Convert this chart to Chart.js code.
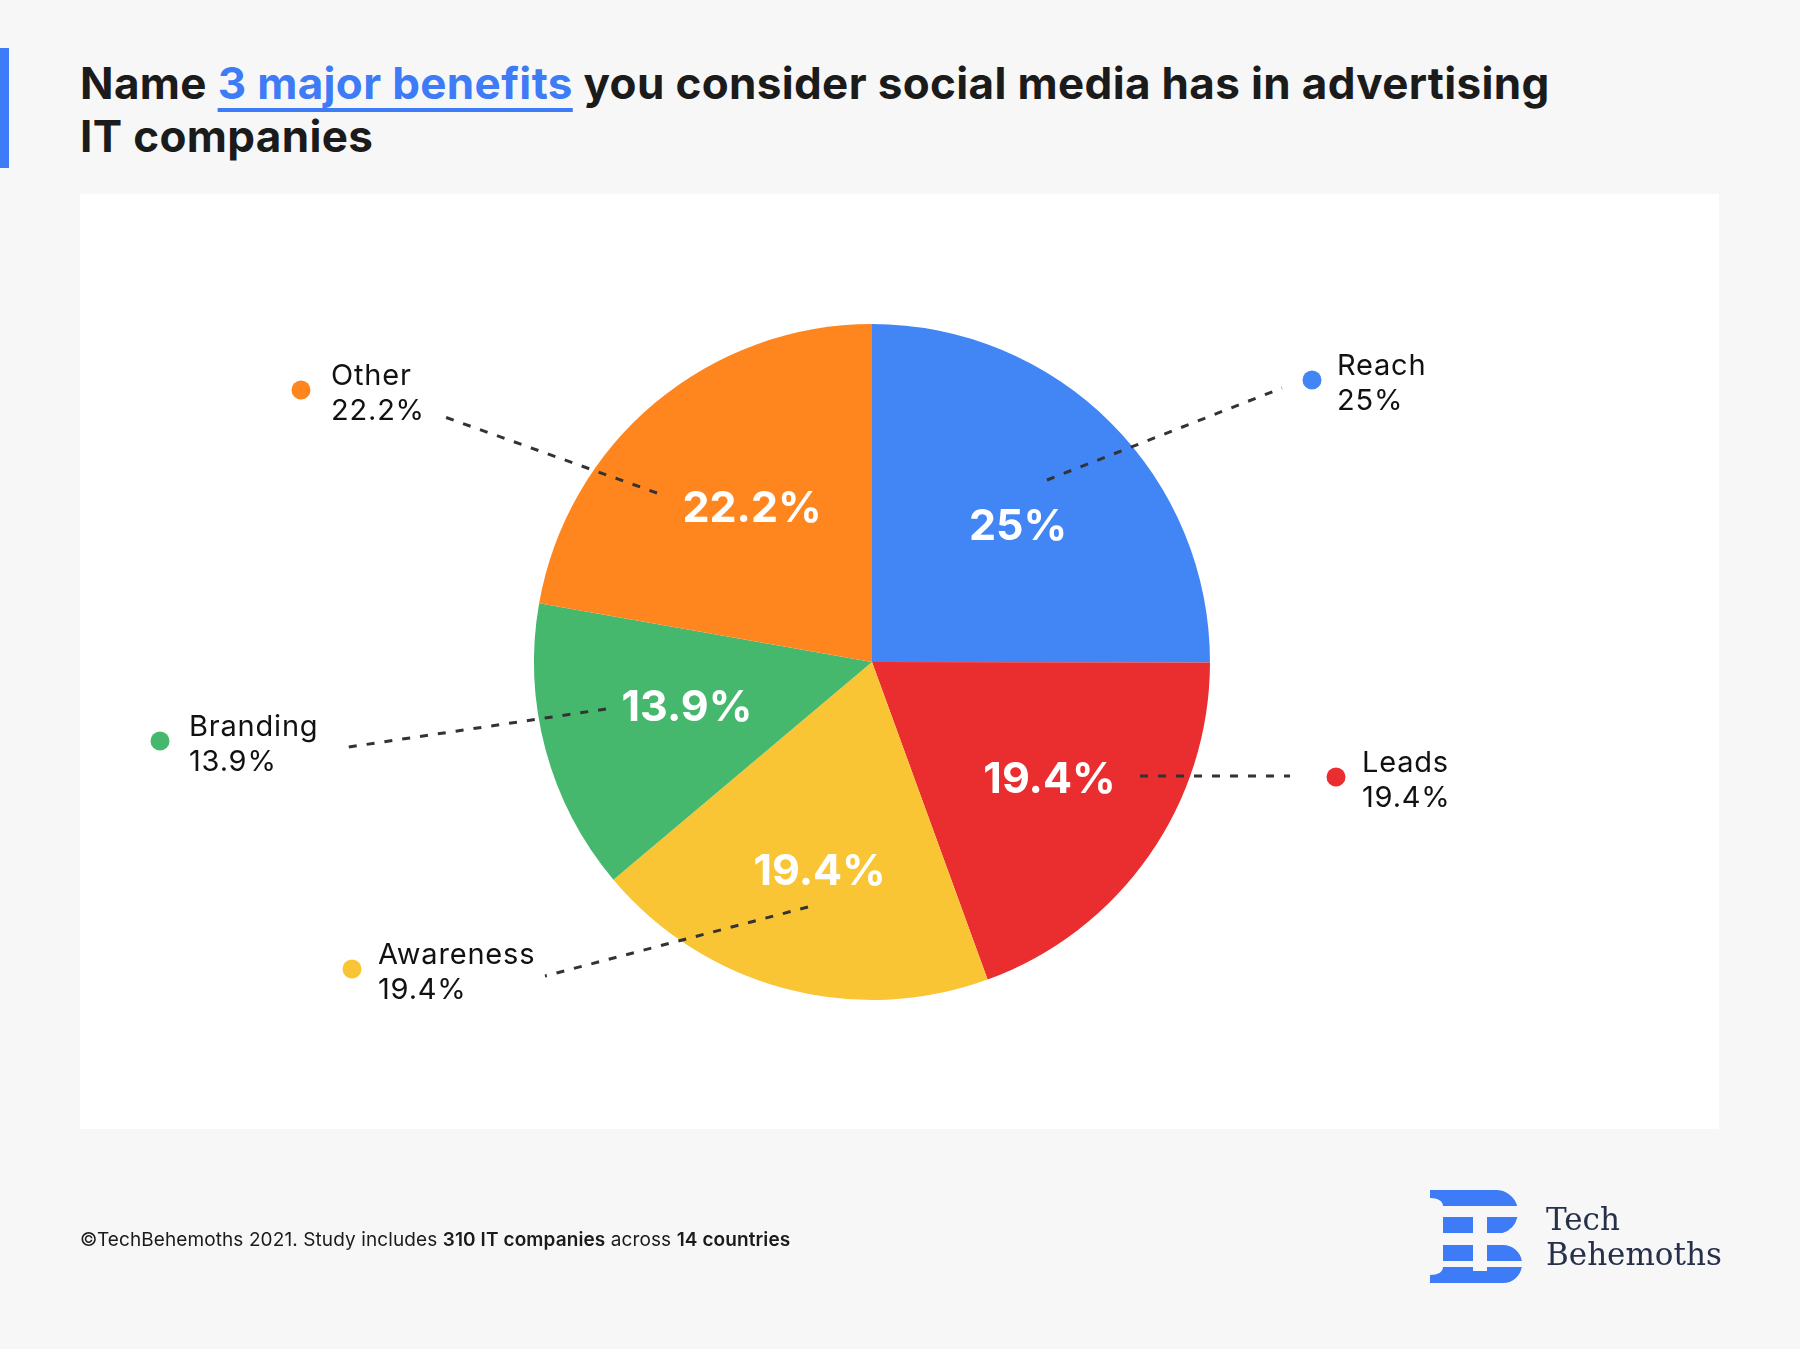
<!DOCTYPE html>
<html><head><meta charset="utf-8">
<script src="https://cdn.jsdelivr.net/npm/chart.js@4"></script>
<style>
html,body{margin:0;padding:0;background:#f7f7f7;}
body{width:1800px;height:1349px;position:relative;overflow:hidden;font-family:Inter,"Noto Sans",sans-serif;}
#bar{position:absolute;left:0;top:48px;width:9px;height:120px;background:#3D7BF7;}
#title{position:absolute;left:80px;top:57px;font-size:44px;line-height:53px;font-weight:700;color:#1b1b1b;letter-spacing:0.35px;white-space:nowrap;}
#title .hl{color:#3D7BF7;text-decoration:underline;text-decoration-color:#3D7BF7;text-decoration-thickness:4px;text-underline-offset:9px;text-decoration-skip-ink:none;}
#panel{position:absolute;left:80px;top:194px;width:1639px;height:935px;background:#fff;}
#chart{position:absolute;left:0;top:0;}
#foot{position:absolute;left:80px;top:1228px;font-size:19px;line-height:24px;color:#1b1b1b;white-space:nowrap;letter-spacing:0.1px;}
#foot b{font-weight:600;}
#logo{position:absolute;left:1428px;top:1188px;}
#logotext{position:absolute;left:1546px;top:1202px;font-family:"DejaVu Serif",serif;font-size:31px;line-height:35px;color:#26304a;}
</style></head>
<body>
<div id="bar"></div>
<div id="title">Name <span class="hl">3 major benefits</span> you consider social media has in advertising<br>IT companies</div>
<div id="panel"></div>
<canvas id="chart" width="1800" height="1349"></canvas>
<div id="foot">©TechBehemoths 2021. Study includes <b>310 IT companies</b> across <b>14 countries</b></div>
<svg id="logo" width="100" height="100" viewBox="0 0 100 100">
  <g fill="#3D7BF7">
    <path d="M2,2 H68 A22,22 0 0 1 89.2,18 H15 C15,13 10,10 2,10 Z"/>
    <rect x="15" y="29" width="30" height="16"/>
    <path d="M59,29 H89.4 A22,22 0 0 1 74.5,45 H59 Z"/>
    <rect x="15" y="57" width="30" height="16"/>
    <path d="M59,57 H75 A19,19 0 0 1 93.8,73 H59 Z"/>
    <path d="M15,79 H45 V83 H59 V79 H93.8 A19,19 0 0 1 75,95 H2 V87 C10,87 15,84 15,79 Z"/>
  </g>
</svg>
<div id="logotext">Tech<br>Behemoths</div>
<script>
// ---- data ----
const categories = ['Reach', 'Leads', 'Awareness', 'Branding', 'Other'];
const shares = [25, 19.4, 19.4, 13.9, 22.2];
const shareLabels = ['25%', '19.4%', '19.4%', '13.9%', '22.2%'];
const sliceColors = ['#4285F4', '#EA2D2F', '#F9C535', '#45B86E', '#FF861F'];

// ---- layout of annotations (offsets from pie centre, px) ----
const innerLabelFrac = [0.594, 0.627, 0.635, 0.567, 0.589];
const innerNudge = [[4,7],[4,-4],[3,3],[0,-4],[8,0]];
const leaderFrom = [[175,-182],[268,114],[-64,245],[-266,47],[-215,-169]];
const leaderTo   = [[410,-274],[418,114],[-327,314],[-530,86],[-430,-246]];
const dotPos     = [[440,-282],[464,115],[-520,307],[-712,79],[-571,-272]];
const textGap    = [25, 26, 26, 29, 30];

const annotate = {
  id: 'annotate',
  afterDatasetsDraw(chart) {
    const ctx = chart.ctx;
    const arcs = chart.getDatasetMeta(0).data;
    const cx = arcs[0].x, cy = arcs[0].y, R = arcs[0].outerRadius;
    ctx.save();
    // leader lines
    ctx.setLineDash([8, 10]);
    ctx.lineWidth = 3;
    ctx.strokeStyle = '#333333';
    leaderFrom.forEach((f, i) => {
      const t = leaderTo[i];
      ctx.beginPath();
      ctx.moveTo(cx + f[0], cy + f[1]);
      ctx.lineTo(cx + t[0], cy + t[1]);
      ctx.stroke();
    });
    ctx.setLineDash([]);
    // inner labels
    ctx.fillStyle = '#ffffff';
    ctx.font = '700 43px Inter, "Noto Sans", sans-serif';
    ctx.textAlign = 'center';
    ctx.textBaseline = 'middle';
    arcs.forEach((a, i) => {
      const mid = (a.startAngle + a.endAngle) / 2;
      const r = R * innerLabelFrac[i];
      ctx.fillText(shareLabels[i], a.x + Math.cos(mid) * r + innerNudge[i][0], a.y + Math.sin(mid) * r + innerNudge[i][1]);
    });
    // outer legend-like labels
    ctx.textAlign = 'left';
    ctx.textBaseline = 'alphabetic';
    ctx.font = '400 29px Inter, "Noto Sans", sans-serif';
    ctx.letterSpacing = '0.8px';
    dotPos.forEach((d, i) => {
      const x = cx + d[0], y = cy + d[1];
      ctx.fillStyle = sliceColors[i];
      ctx.beginPath();
      ctx.arc(x, y, 9.5, 0, Math.PI * 2);
      ctx.fill();
      ctx.fillStyle = '#111111';
      ctx.fillText(categories[i], x + textGap[i], y - 5.5);
      ctx.fillText(shareLabels[i], x + textGap[i], y + 30);
    });
    ctx.restore();
  }
};

new Chart(document.getElementById('chart'), {
  type: 'pie',
  data: {
    labels: categories,
    datasets: [{ data: shares, backgroundColor: sliceColors, borderWidth: 0 }]
  },
  options: {
    responsive: false,
    animation: false,
    events: [],
    layout: { padding: { left: 534, right: 590, top: 324, bottom: 349 } },
    plugins: { legend: { display: false }, tooltip: { enabled: false } }
  },
  plugins: [annotate]
});
</script>
</body></html>
